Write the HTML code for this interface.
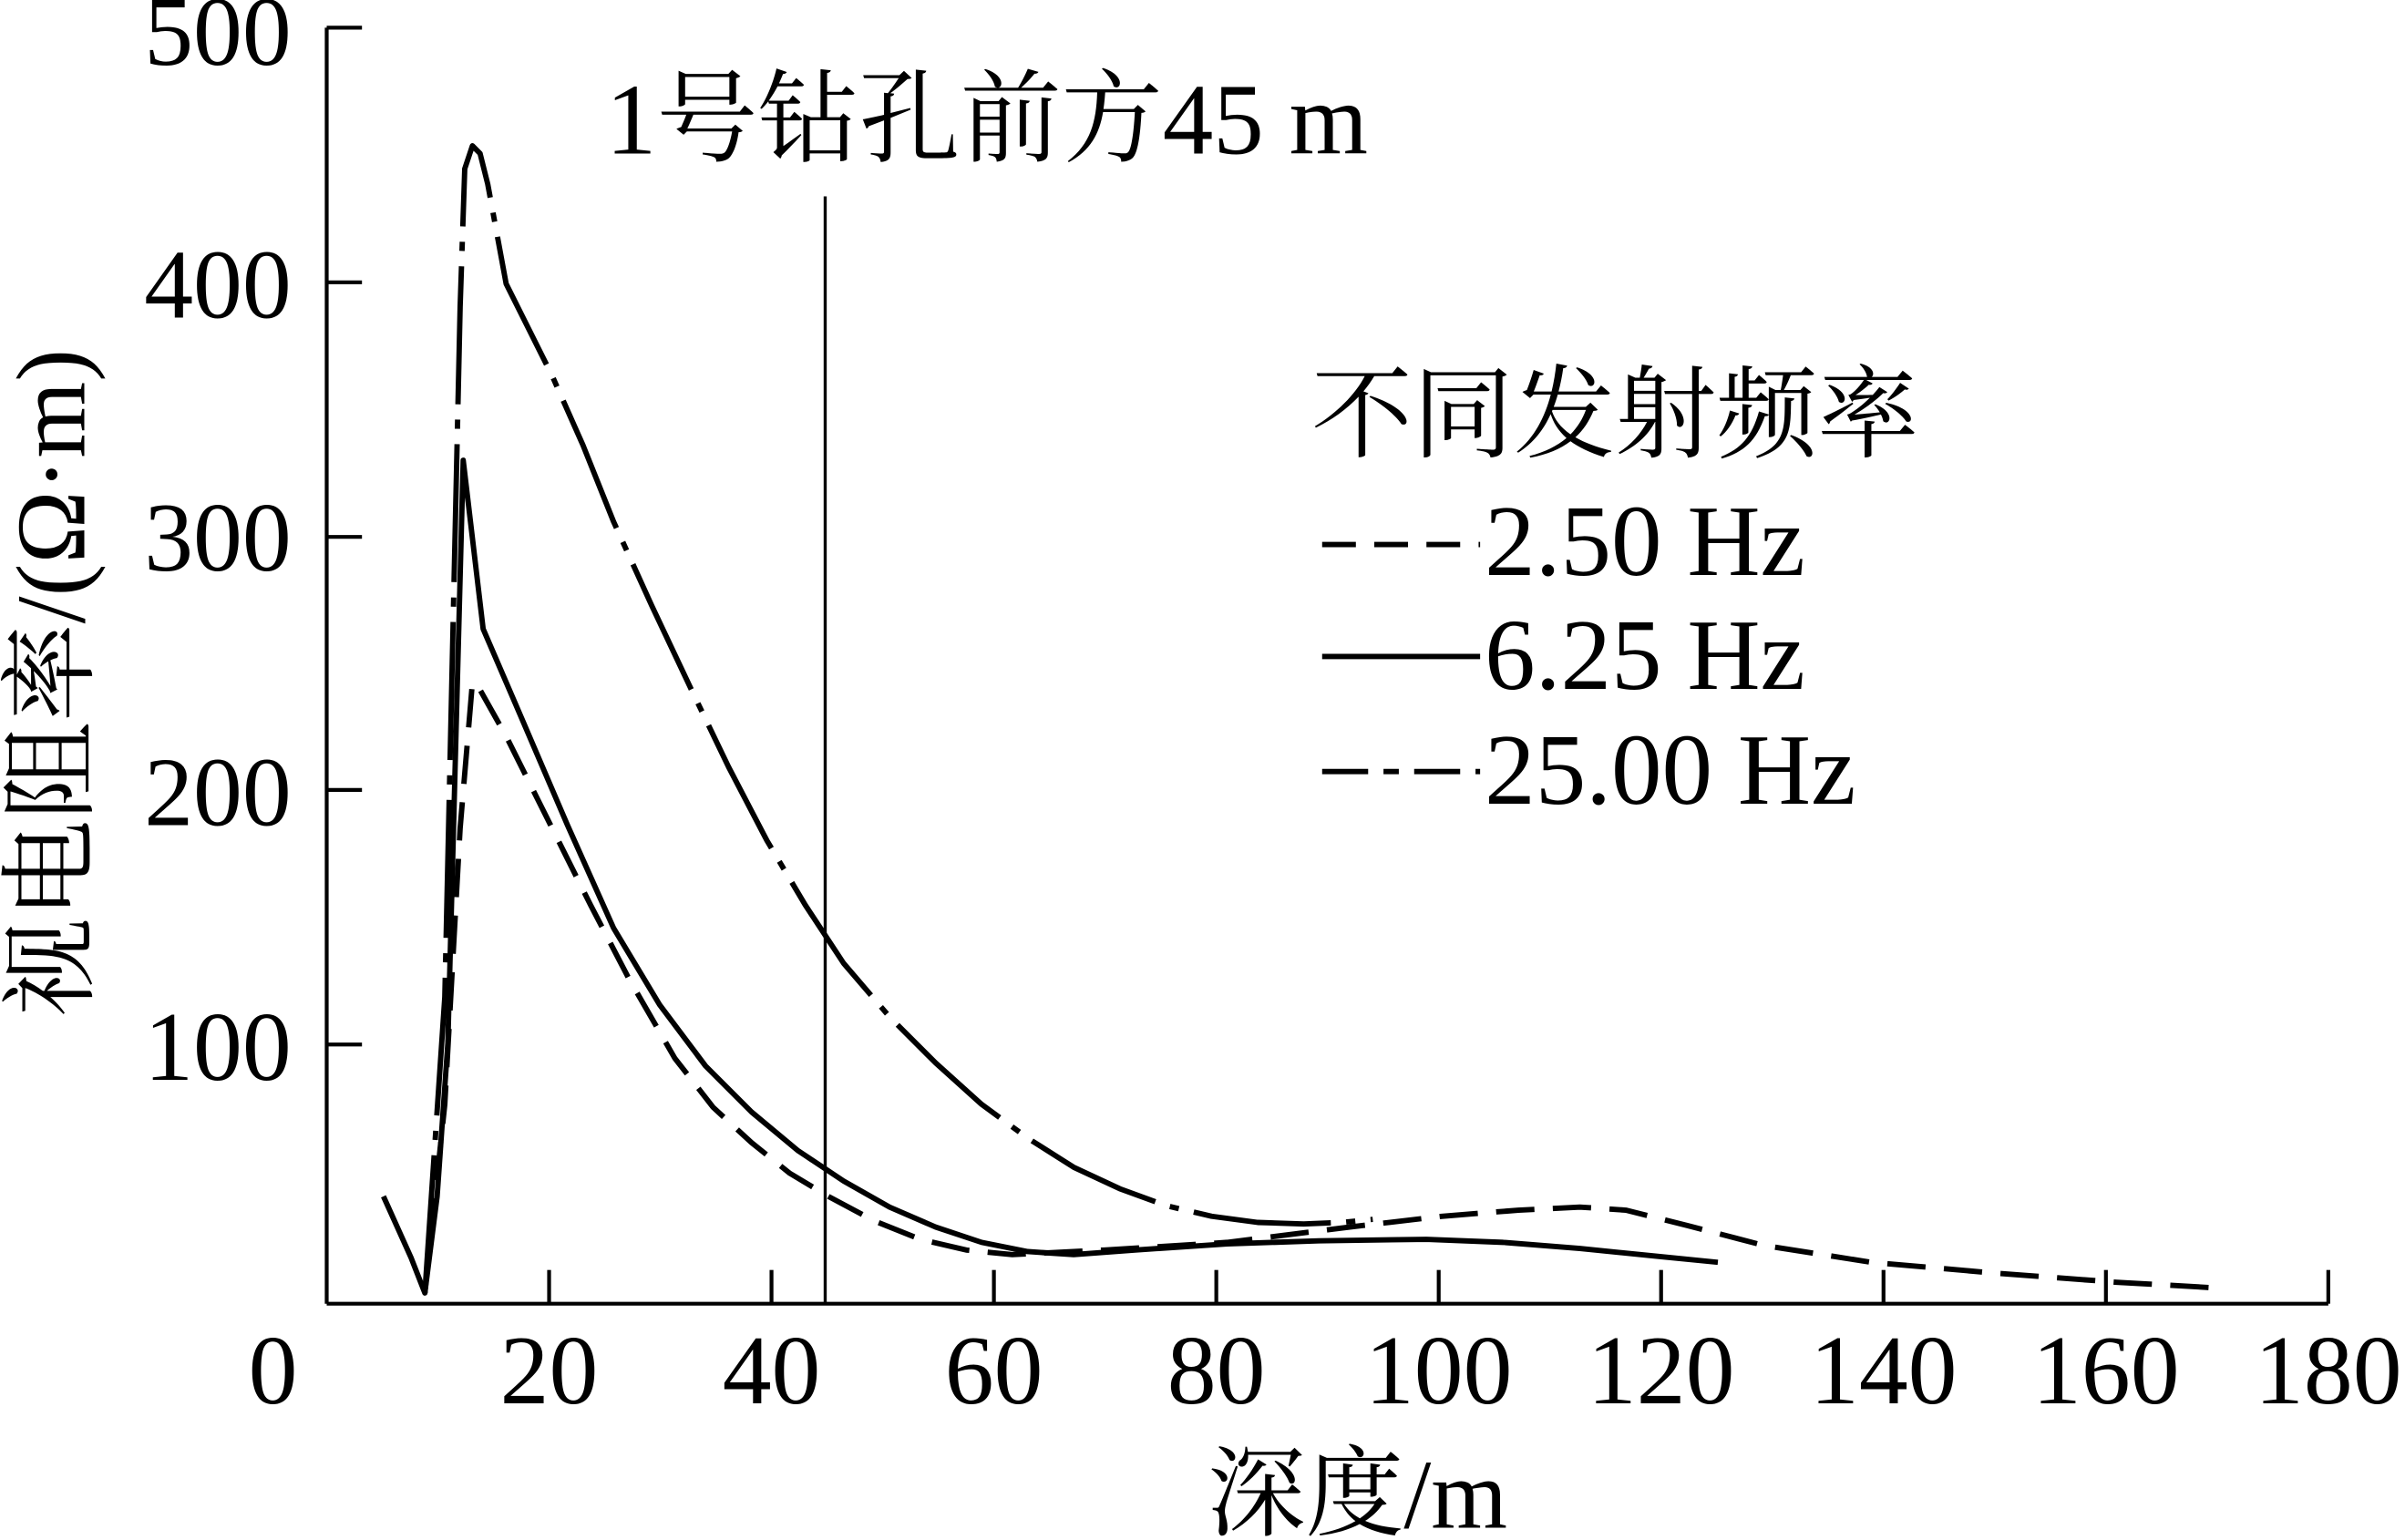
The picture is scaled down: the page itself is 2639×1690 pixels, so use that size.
<!DOCTYPE html>
<html><head><meta charset="utf-8"><style>html,body{margin:0;padding:0;background:#fff}svg{display:block}</style></head>
<body>
<svg width="2639" height="1690" viewBox="0 0 1568 1004" xmlns="http://www.w3.org/2000/svg" font-family="'Liberation Serif','Noto Serif CJK SC',serif" fill="#000">
<g stroke="#000" stroke-width="2.5" fill="none">
<line x1="213" y1="18" x2="213" y2="850"/>
<line x1="213" y1="850" x2="1518" y2="850"/>
<line x1="213" y1="18" x2="236" y2="18"/>
<line x1="213" y1="184" x2="236" y2="184"/>
<line x1="213" y1="350" x2="236" y2="350"/>
<line x1="213" y1="515" x2="236" y2="515"/>
<line x1="213" y1="681" x2="236" y2="681"/>
<line x1="358" y1="850" x2="358" y2="828"/>
<line x1="503" y1="850" x2="503" y2="828"/>
<line x1="648" y1="850" x2="648" y2="828"/>
<line x1="793" y1="850" x2="793" y2="828"/>
<line x1="938" y1="850" x2="938" y2="828"/>
<line x1="1083" y1="850" x2="1083" y2="828"/>
<line x1="1228" y1="850" x2="1228" y2="828"/>
<line x1="1373" y1="850" x2="1373" y2="828"/>
<line x1="1518" y1="850" x2="1518" y2="828"/>
<line x1="538" y1="128" x2="538" y2="850" stroke-width="2"/>
</g>
<g fill="none" stroke="#000" stroke-width="3.5" stroke-linejoin="round">
<path d="M250,780 L268,820 L277,843 L285,780 L292,680 L302,300 L315,410 L340,468 L370,538 L400,605 L430,655 L460,695 L490,725 L520,750 L550,770 L580,787 L610,800 L640,810 L670,816 L700,818 L740,815 L800,811 L860,809 L930,808 L980,810 L1030,814 L1080,819 L1120,823"/>
<path stroke-dasharray="90,10,6,10" d="M277,843 L290,650 L300,200 L303,110 L308,95 L313,100 L318,120 L330,185 L345,215 L360,245 L380,290 L400,340 L425,395 L450,448 L475,500 L500,548 L525,590 L550,628 L580,663 L610,693 L640,720 L670,742 L700,761 L730,775 L760,786 L790,793 L820,797 L850,798 L875,797 L895,795"/>
<path stroke-dasharray="25,12" d="M277,843 L290,720 L300,540 L308,445 L312,448 L330,480 L360,540 L385,590 L410,638 L440,690 L465,722 L490,745 L515,765 L540,780 L570,796 L600,808 L630,815 L660,818 L720,815 L800,810 L880,800 L940,793 L990,789 L1030,787 L1060,789 L1100,799 L1150,812 L1220,823 L1300,830 L1380,836 L1450,840"/>
<line x1="862" y1="355" x2="965" y2="355" stroke-dasharray="22,12"/>
<line x1="862" y1="428" x2="965" y2="428"/>
<line x1="862" y1="503" x2="965" y2="503" stroke-dasharray="30,10,10,10"/>
</g>
<g font-size="64" text-anchor="end">
<text x="190" y="42">500</text><text x="190" y="207">400</text><text x="190" y="372">300</text>
<text x="190" y="538">200</text><text x="190" y="704">100</text>
</g>
<g font-size="64" text-anchor="middle">
<text x="178" y="915">0</text><text x="358" y="915">20</text><text x="503" y="915">40</text><text x="648" y="915">60</text>
<text x="793" y="915">80</text><text x="938" y="915">100</text><text x="1083" y="915">120</text><text x="1228" y="915">140</text>
<text x="1373" y="915">160</text><text x="1518" y="915">180</text>
<text x="885" y="996">深度/m</text>
<text transform="translate(55,445) rotate(-90)">视电阻率/(Ω·m)</text>
</g>
<text x="395" y="100" font-size="66">1号钻孔前方45 m</text>
<g font-size="66">
<text x="855" y="293">不同发射频率</text>
<text x="968" y="375">2.50 Hz</text>
<text x="968" y="449">6.25 Hz</text>
<text x="968" y="524">25.00 Hz</text>
</g>
</svg>
</body></html>
